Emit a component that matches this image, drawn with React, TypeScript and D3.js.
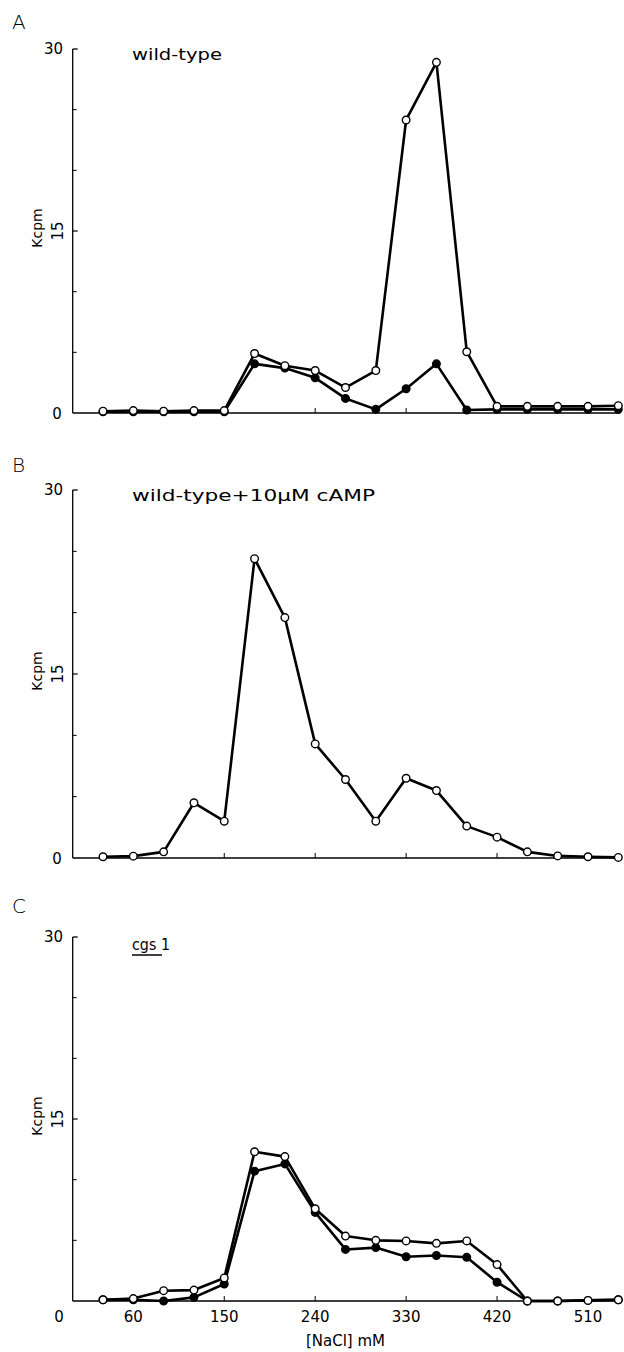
import React from "react";
import * as d3 from "d3";

// NaCl concentration of each fraction (mM)
const NACL = [30, 60, 90, 120, 150, 180, 210, 240, 270, 300, 330, 360, 390, 420, 450, 480, 510, 540];

// Panel A: wild-type
const A_OPEN = [0.15, 0.2, 0.15, 0.2, 0.2, 4.9, 3.9, 3.5, 2.1, 3.5, 24.15, 28.9, 5.05, 0.55, 0.55, 0.55, 0.55, 0.6];
const A_FILLED = [0.1, 0.1, 0.1, 0.1, 0.1, 4.05, 3.7, 2.9, 1.2, 0.3, 2.0, 4.05, 0.25, 0.3, 0.3, 0.3, 0.3, 0.3];

// Panel B: wild-type + 10 µM cAMP
const B_OPEN = [0.1, 0.15, 0.5, 4.5, 3.0, 24.4, 19.6, 9.3, 6.4, 3.0, 6.5, 5.5, 2.6, 1.7, 0.5, 0.17, 0.1, 0.05];

// Panel C: cgs1
const C_OPEN = [0.1, 0.2, 0.85, 0.9, 1.9, 12.3, 11.9, 7.6, 5.35, 5.0, 4.95, 4.75, 4.95, 3.0, 0, 0, 0.05, 0.1];
const C_FILLED = [0.1, 0.1, 0.0, 0.3, 1.4, 10.7, 11.3, 7.3, 4.25, 4.4, 3.65, 3.75, 3.6, 1.55, 0, 0, 0.05, 0.1];

const X_TICKS = [60, 150, 240, 330, 420, 510];
const X_LABELS = ["0", "60", "150", "240", "330", "420", "510"];
const X_LABEL_VALUES = [0, 60, 150, 240, 330, 420, 510];
const Y_MINOR = [5, 10, 20, 25];
const Y_MAX = 30;

const FONT = "'DejaVu Sans', 'Liberation Sans', sans-serif";

const x = d3.scaleLinear().domain([0, 540]).range([72.7, 618.3]);

type Series = { values: number[]; filled: boolean };

function Panel(props: {
  top: number;
  base: number;
  letter: string;
  letterY: number;
  series: Series[];
  zeroLabel: boolean;
  children?: React.ReactNode;
}) {
  const { top, base, series } = props;
  const y = d3.scaleLinear().domain([0, Y_MAX]).range([base, top]);
  const x0 = x(0);
  const line = d3
    .line<number>()
    .x((_, i) => x(NACL[i]))
    .y((d) => y(d));
  return (
    <g>
      <text x={12} y={props.letterY} fontSize={20} fontFamily={FONT} fontWeight={300}>
        {props.letter}
      </text>
      {/* y axis */}
      <line x1={x0} x2={x0} y1={y(30)} y2={base} stroke="#000" strokeWidth={1.3} />
      <line x1={x0} x2={x0 + 5} y1={y(30)} y2={y(30)} stroke="#000" strokeWidth={1.3} />
      <line x1={x0} x2={x0 + 5} y1={y(15)} y2={y(15)} stroke="#000" strokeWidth={1.2} />
      {Y_MINOR.map((v) => (
        <line key={v} x1={x0} x2={x0 + 4} y1={y(v)} y2={y(v)} stroke="#000" strokeWidth={1} />
      ))}
      <text x={63} y={y(30) + 5} fontSize={15} textAnchor="end" fontFamily={FONT}>
        30
      </text>
      <text
        transform={`translate(58,${y(15)}) rotate(-90)`}
        fontSize={15}
        textAnchor="middle"
        dominantBaseline="central"
        fontFamily={FONT}
      >
        15
      </text>
      <text
        transform={`translate(37,${y(15) - 3}) rotate(-90)`}
        fontSize={14}
        textAnchor="middle"
        dominantBaseline="central"
        fontFamily={FONT}
      >
        Kcpm
      </text>
      {props.zeroLabel && (
        <text x={57} y={base + 6} fontSize={15} textAnchor="middle" fontFamily={FONT}>
          0
        </text>
      )}
      {/* x axis */}
      <line x1={x0} x2={x(540) + 2} y1={base} y2={base} stroke="#000" strokeWidth={1.5} />
      {X_TICKS.map((v) => (
        <line key={v} x1={x(v)} x2={x(v)} y1={base} y2={base - 5} stroke="#000" strokeWidth={1} />
      ))}
      {props.children}
      {/* data */}
      {series.map((s, k) => (
        <path key={"l" + k} d={line(s.values) || ""} fill="none" stroke="#000" strokeWidth={2.6} strokeLinejoin="round" />
      ))}
      {series.map((s, k) => (
        <g key={"c" + k}>
          {s.values.map((v, i) => (
            <circle
              key={i}
              cx={x(NACL[i])}
              cy={y(v)}
              r={3.8}
              fill={s.filled ? "#000" : "#fff"}
              stroke="#000"
              strokeWidth={1.4}
            />
          ))}
        </g>
      ))}
    </g>
  );
}

export default function App() {
  const cBase = 1301;
  return (
    <svg
      width={624}
      height={1352}
      style={{ position: "absolute", left: 0, top: 0, background: "#fff" }}
    >
      <rect x={0} y={0} width={624} height={1352} fill="#fff" />
      <Panel
        top={49}
        base={413}
        letter="A"
        letterY={29}
        zeroLabel={true}
        series={[
          { values: A_FILLED, filled: true },
          { values: A_OPEN, filled: false },
        ]}
      >
        <text x={132} y={60} fontSize={16} fontFamily={FONT} textLength={90} lengthAdjust="spacingAndGlyphs">
          wild-type
        </text>
      </Panel>
      <Panel
        top={490}
        base={858}
        letter="B"
        letterY={472}
        zeroLabel={true}
        series={[{ values: B_OPEN, filled: false }]}
      >
        <text x={132} y={501} fontSize={16} fontFamily={FONT} textLength={243} lengthAdjust="spacingAndGlyphs">
          wild-type+10μM cAMP
        </text>
      </Panel>
      <Panel
        top={937}
        base={cBase}
        letter="C"
        letterY={913}
        zeroLabel={false}
        series={[
          { values: C_FILLED, filled: true },
          { values: C_OPEN, filled: false },
        ]}
      >
        <text x={132} y={950} fontSize={16} fontFamily={FONT} textLength={38} lengthAdjust="spacingAndGlyphs">
          cgs 1
        </text>
        <line x1={132} x2={162} y1={955} y2={955} stroke="#000" strokeWidth={1.5} />
      </Panel>
      {X_LABEL_VALUES.map((v, i) => (
        <text
          key={v}
          x={v === 0 ? 59 : x(v)}
          y={cBase + 21}
          fontSize={15}
          textAnchor="middle"
          fontFamily={FONT}
        >
          {X_LABELS[i]}
        </text>
      ))}
      <text x={x(270)} y={1346} fontSize={15} textAnchor="middle" fontFamily={FONT}>
        [NaCl] mM
      </text>
    </svg>
  );
}
